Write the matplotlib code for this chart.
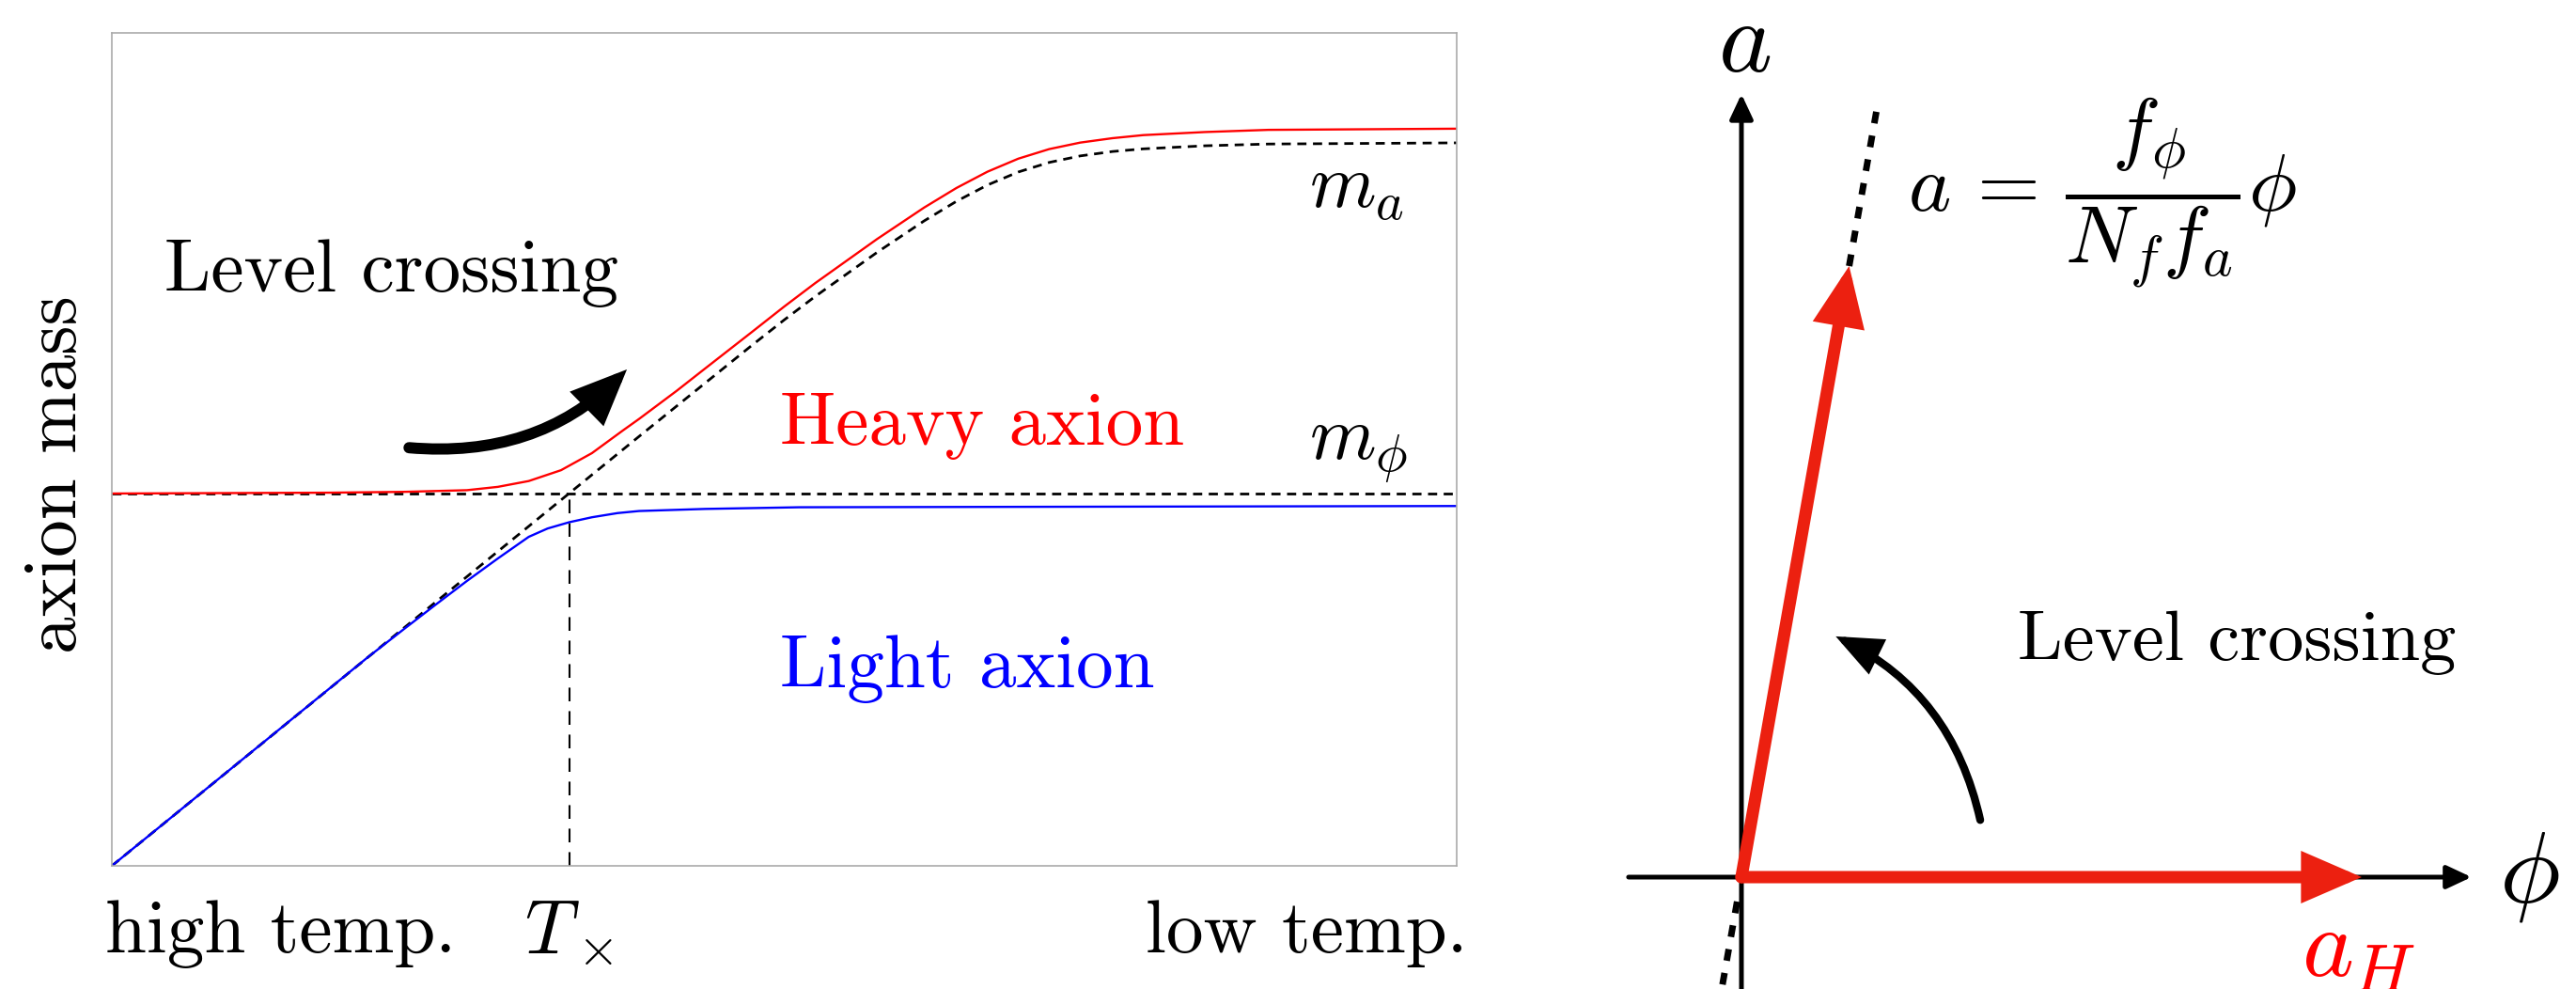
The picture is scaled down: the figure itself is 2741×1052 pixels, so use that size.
# level crossing sketch: axion mass vs temperature (left) and field rotation (right)

import numpy as np
import matplotlib.pyplot as plt
from matplotlib.patches import FancyArrowPatch

plt.rcParams['mathtext.fontset'] = 'cm'
plt.rcParams['font.family'] = 'cmr10'
plt.rcParams['axes.formatter.use_mathtext'] = True

# left panel (x: 0 = high temp., 1 = low temp.)
temp_ma = [0.000, 0.392, 0.476, 0.500, 0.523, 0.569, 0.604, 0.628, 0.651, 0.674,
           0.697, 0.720, 0.744, 0.767, 0.813, 0.860, 1.000]
mass_ma = [0.000, 0.5155, 0.625, 0.6555, 0.6836, 0.7365, 0.7743, 0.7978, 0.8173, 0.833,
           0.8445, 0.8523, 0.8576, 0.8608, 0.8645, 0.8666, 0.868]

temp_heavy = [0.000, 0.161, 0.217, 0.264, 0.287, 0.310, 0.334, 0.357, 0.380, 0.392,
              0.420, 0.441, 0.476, 0.500, 0.523, 0.569, 0.604, 0.628, 0.651, 0.674,
              0.697, 0.720, 0.744, 0.767, 0.813, 0.860, 1.000]
mass_heavy = [0.447, 0.448, 0.449, 0.451, 0.455, 0.462, 0.475, 0.4955, 0.5227, 0.5365,
              0.5703, 0.5969, 0.641, 0.6715, 0.6996, 0.7525, 0.7903, 0.8138, 0.8333, 0.849,
              0.8605, 0.8683, 0.8736, 0.8773, 0.881, 0.8836, 0.885]

temp_light = [0.000, 0.190, 0.217, 0.240, 0.264, 0.287, 0.310, 0.324, 0.340, 0.357,
              0.376, 0.392, 0.441, 0.511, 1.000]
mass_light = [0.000, 0.250, 0.284, 0.3126, 0.342, 0.369, 0.395, 0.405, 0.4125, 0.4185,
              0.4235, 0.426, 0.4285, 0.4305, 0.432]

m_phi = 0.447
T_cross = 0.340

# right panel (unit = length of a_H)
rot_angle = 80.0          # degrees, direction of a_H before the crossing
phi_axis = (-0.182, 1.177)
a_axis = (-0.20, 1.262)
dash_up = (1.0, 1.27)
dash_down = (-0.04, -0.20)
arc_tail = (0.385, 0.092)
arc_head = (0.152, 0.388)

RED = '#ec2010'

fig = plt.figure(figsize=(27.41, 10.52), dpi=100)

# ---------- left panel ----------
ax = fig.add_axes([119 / 2741, 131 / 1052, 1431 / 2741, 886 / 1052])
ax.set_xlim(0, 1)
ax.set_ylim(0, 1)
ax.set_xticks([])
ax.set_yticks([])
for s in ax.spines.values():
    s.set_color('#aaaaaa')
    s.set_linewidth(1.2)

ax.plot(temp_ma, mass_ma, color='black', lw=2.0, ls=(0, (3.5, 2.5)))
ax.axhline(m_phi, color='black', lw=2.0, ls=(0, (3.5, 2.5)))
ax.plot([T_cross, T_cross], [0, m_phi], color='black', lw=1.5, ls=(0, (7, 5)))
ax.plot(temp_heavy, mass_heavy, color='red', lw=1.7)
ax.plot(temp_light, mass_light, color='blue', lw=1.7)

ax.add_patch(FancyArrowPatch((0.221, 0.502), (0.383, 0.596),
                             connectionstyle='arc3,rad=0.23',
                             arrowstyle='-|>,head_length=28,head_width=12',
                             lw=8.6, color='black', shrinkA=0, shrinkB=0,
                             joinstyle='miter', clip_on=False))

ax.text(0.039, 0.690, 'Level crossing', fontsize=57, va='baseline')
ax.text(0.497, 0.506, 'Heavy axion', fontsize=57, color='red', va='baseline')
ax.text(0.497, 0.214, 'Light axion', fontsize=57, color='blue', va='baseline')
ax.text(0.890, 0.791, r'$m_a$', fontsize=58, va='baseline')
ax.text(0.890, 0.488, r'$m_\phi$', fontsize=58, va='baseline')
ax.text(-0.005, -0.104, 'high temp.', fontsize=57, va='baseline', clip_on=False)
ax.text(0.307, -0.104, r'$T_\times$', fontsize=58, va='baseline', clip_on=False)
ax.text(1.008, -0.104, 'low temp.', fontsize=57, va='baseline', ha='right', clip_on=False)
ax.text(-0.0405, 0.47, 'axion mass', fontsize=57, rotation=90,
        ha='center', va='center', clip_on=False)

# ---------- right panel ----------
ax2 = fig.add_axes([1700 / 2741, 0, 1041 / 2741, 1])
ax2.set_xlim(-0.2318, 1.3455)
ax2.set_ylim(-0.1803, 1.4136)
ax2.axis('off')

th = np.deg2rad(rot_angle)
ux, uy = np.cos(th), np.sin(th)

ax2.add_patch(FancyArrowPatch((phi_axis[0], 0), (phi_axis[1], 0),
                              arrowstyle='-|>,head_length=16,head_width=7.5',
                              lw=3.6, color='black', shrinkA=0, shrinkB=0))
ax2.add_patch(FancyArrowPatch((0, a_axis[0]), (0, a_axis[1]),
                              arrowstyle='-|>,head_length=16,head_width=7.5',
                              lw=3.6, color='black', shrinkA=0, shrinkB=0))

dash = (0, (1.8, 1.9))
ax2.plot([dash_up[0] * ux, dash_up[1] * ux], [dash_up[0] * uy, dash_up[1] * uy],
         color='black', lw=5, ls=dash)
ax2.plot([dash_down[0] * ux, dash_down[1] * ux], [dash_down[0] * uy, dash_down[1] * uy],
         color='black', lw=5, ls=dash)

ax2.add_patch(FancyArrowPatch((0, 0), (1.0, 0),
                              arrowstyle='-|>,head_length=30,head_width=13',
                              lw=9.4, color=RED, shrinkA=0, shrinkB=0, joinstyle='miter'))
ax2.add_patch(FancyArrowPatch((0, 0), (ux, uy),
                              arrowstyle='-|>,head_length=30,head_width=13',
                              lw=9.4, color=RED, shrinkA=0, shrinkB=0, joinstyle='miter'))

ax2.add_patch(FancyArrowPatch(arc_tail, arc_head, connectionstyle='arc3,rad=0.24',
                              arrowstyle='-|>,head_length=25,head_width=10.5',
                              lw=6, color='black', shrinkA=0, shrinkB=0, joinstyle='miter'))

ax2.text(0.005, 1.34, r'$a$', fontsize=78, ha='center', va='center')
ax2.text(1.27, 0.0, r'$\phi$', fontsize=78, ha='center', va='center')
ax2.text(0.995, -0.159, r'$a_H$', fontsize=75, color='red', ha='center', va='baseline')
ax2.text(0.582, 1.103, r'$a\, =\, \dfrac{f_\phi}{N_f f_a}\phi$', fontsize=62,
         ha='center', va='center')
ax2.text(0.445, 0.35, 'Level crossing', fontsize=55, va='baseline')

fig.savefig('out.png', dpi=100)
